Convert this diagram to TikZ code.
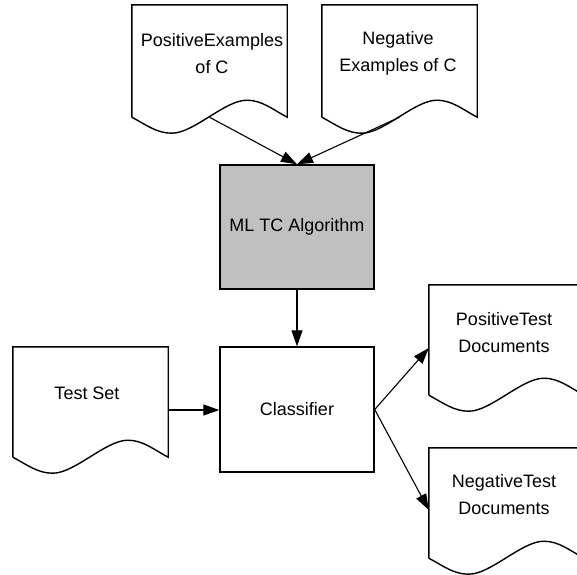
\documentclass[tikz,border=0pt]{standalone}
\usepackage{fontspec}
\setmainfont{Liberation Sans}
\usetikzlibrary{arrows.meta,calc}
\tikzset{
  docnode/.style={minimum width=155pt, minimum height=110pt, inner sep=0pt, draw=none},
  boxnode/.style={draw, line width=1.4pt, minimum width=154pt, minimum height=124pt, inner sep=0pt,
    font=\fontsize{18}{27}\selectfont},
  txt/.style={align=center, font=\fontsize{18}{27}\selectfont, inner sep=0pt},
  conn/.style={line width=1.1pt, -{Triangle[length=16pt,width=11pt]}},
  outline/.style={line width=1.4pt, line join=miter}
}
\newcommand\docoutline[1]{%
  \draw[outline] (#1.south west) -- (#1.north west) -- (#1.north east) -- (#1.south east)
  .. controls +(-15,-8) and +(15,0) .. ($(#1.south west)+(115,-17)$)
  .. controls +(-22,0) and +(22,0) .. ($(#1.south west)+(40,16)$)
  .. controls +(-15,0) and +(15,8) .. (#1.south west);}
\begin{document}
\begin{tikzpicture}[x=1pt,y=-1pt]
  \useasboundingbox (0,0) rectangle (577,574);
  \clip (0,0) rectangle (577,574);
  \fill[white] (0,0) rectangle (577,574);
  % documents
  \node[docnode, minimum height=112pt] (pe) at (209.5,61) {};
  \node[docnode, minimum height=112pt] (ne) at (399.5,61) {};
  \node[docnode] (ts) at (90.5,402) {};
  \node[docnode] (pt) at (506.5,340) {};
  \node[docnode] (nt) at (506.5,503) {};
  \docoutline{pe}
  \docoutline{ne}
  \docoutline{ts}
  \docoutline{pt}
  \docoutline{nt}
  \node[txt] (pe-t) at (212,53.5) {PositiveExamples\\of C};
  \node[txt] (ne-t) at (398,53.5) {Negative\\Examples of C};
  \node[txt] (ts-t) at (87,393) {Test Set};
  \node[txt] (pt-t) at (504,333) {PositiveTest\\Documents};
  \node[txt] (nt-t) at (504,495) {NegativeTest\\Documents};
  % boxes
  \node[boxnode, fill={rgb,255:red,192;green,192;blue,192}] (ml) at (297,227) {ML TC Algorithm};
  \node[boxnode, minimum height=125pt] (cl) at (297,409.5) {Classifier};
  % connectors
  \draw[conn] (pe.south) -- (ml.north);
  \draw[conn] (ne.south) -- (ml.north);
  \draw[conn] (ml.south) -- (cl.north);
  \draw[conn] ([yshift=-8pt]ts.east) -- ([yshift=-8pt]ts.east -| cl.west);
  \draw[conn] (cl.east) -- ([yshift=-8pt]pt.west);
  \draw[conn] (cl.east) -- ([yshift=-7pt]nt.west);
\end{tikzpicture}
\end{document}
